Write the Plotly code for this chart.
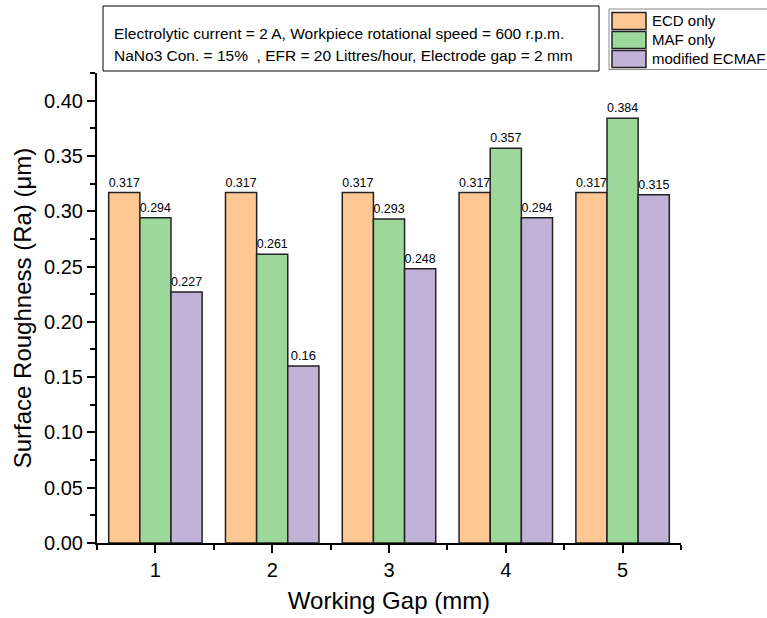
import plotly.graph_objects as go

# ---- data ----
gaps = [1, 2, 3, 4, 5]
ecd_only = [0.317, 0.317, 0.317, 0.317, 0.317]
maf_only = [0.294, 0.261, 0.293, 0.357, 0.384]
modified_ecmaf = [0.227, 0.16, 0.248, 0.294, 0.315]
series_names = ["ECD only", "MAF only", "modified ECMAF"]
series_colors = ["#FEC794", "#9DD89B", "#C2B2D7"]
y_ticks = [0.00, 0.05, 0.10, 0.15, 0.20, 0.25, 0.30, 0.35, 0.40]
info_lines = [
    "Electrolytic current = 2 A, Workpiece rotational speed = 600 r.p.m.",
    "NaNo3 Con. = 15%  , EFR = 20 Littres/hour, Electrode gap = 2 mm",
]

FONT = "Liberation Sans, Arial, sans-serif"
W, H = 767, 618
L, R, T, B = 97, 86, 73, 75
PW, PH = W - L - R, H - T - B


def px(xpix):
    return (xpix - L) / PW


def py(ypix):
    return (H - B - ypix) / PH


fig = go.Figure()
for name, vals, col in zip(series_names, [ecd_only, maf_only, modified_ecmaf], series_colors):
    fig.add_trace(go.Bar(
        x=gaps, y=vals, name=name,
        marker=dict(color=col, line=dict(color="#222222", width=1.5)),
        text=[f"{v:g}" for v in vals], textposition="outside",
        textfont=dict(family=FONT, size=13, color="black"),
        cliponaxis=False, showlegend=False,
    ))

# ---- info box ----
shapes = [dict(type="rect", xref="paper", yref="paper",
               x0=px(103), x1=px(599), y0=py(71), y1=py(6),
               line=dict(color="black", width=1), fillcolor="white", layer="above")]
annotations = []
for i, line in enumerate(info_lines):
    annotations.append(dict(xref="paper", yref="paper", x=px(112), y=py(34 + 22 * i),
                            xanchor="left", yanchor="middle", showarrow=False,
                            text=line, font=dict(family=FONT, size=15.5, color="black")))

# ---- legend (manual) ----
shapes.append(dict(type="rect", xref="paper", yref="paper",
                   x0=px(609), x1=px(790), y0=py(69.5), y1=py(9),
                   line=dict(color="#888888", width=1), fillcolor="white", layer="above"))
for i, (name, col) in enumerate(zip(series_names, series_colors)):
    top = 12.5 + 19 * i
    shapes.append(dict(type="rect", xref="paper", yref="paper",
                       x0=px(612), x1=px(646), y0=py(top + 17), y1=py(top),
                       line=dict(color="#222222", width=1.5), fillcolor=col, layer="above"))
    annotations.append(dict(xref="paper", yref="paper", x=px(650), y=py(top + 8),
                            xanchor="left", yanchor="middle", showarrow=False,
                            text=name, font=dict(family=FONT, size=15, color="black")))

fig.update_layout(
    width=W, height=H,
    margin=dict(l=L, r=R, t=T, b=B, autoexpand=False),
    paper_bgcolor="white", plot_bgcolor="white",
    barmode="group", bargap=0.2, bargroupgap=0,
    font=dict(family=FONT, color="black"),
    shapes=shapes, annotations=annotations,
    xaxis=dict(
        range=[0.5, 5.5], tickvals=gaps, ticktext=[str(g) for g in gaps],
        showline=True, linecolor="black", linewidth=2, mirror=False,
        ticks="outside", ticklen=8, tickwidth=2, tickcolor="black",
        minor=dict(dtick=0.5, tick0=0.5, ticks="outside", ticklen=5, tickwidth=2, tickcolor="black"),
        showgrid=False, zeroline=False,
        tickfont=dict(family=FONT, size=20, color="black"),
        title=dict(text="Working Gap (mm)", font=dict(family=FONT, size=24, color="black"), standoff=12),
    ),
    yaxis=dict(
        range=[0, 0.425], tickvals=y_ticks, ticktext=[f"{v:.2f}" for v in y_ticks],
        showline=True, linecolor="black", linewidth=2, mirror=False,
        ticks="outside", ticklen=8, tickwidth=2, tickcolor="black",
        minor=dict(dtick=0.025, tick0=0, ticks="outside", ticklen=5, tickwidth=2, tickcolor="black"),
        showgrid=False, zeroline=False,
        tickfont=dict(family=FONT, size=20, color="black"),
        title=dict(text="Surface Roughness (Ra) (μm)", font=dict(family=FONT, size=24, color="black"), standoff=6),
    ),
)

fig.write_html("out.html", config={"displayModeBar": False},
               post_script="document.body.style.margin='0';document.body.style.overflow='hidden';")
